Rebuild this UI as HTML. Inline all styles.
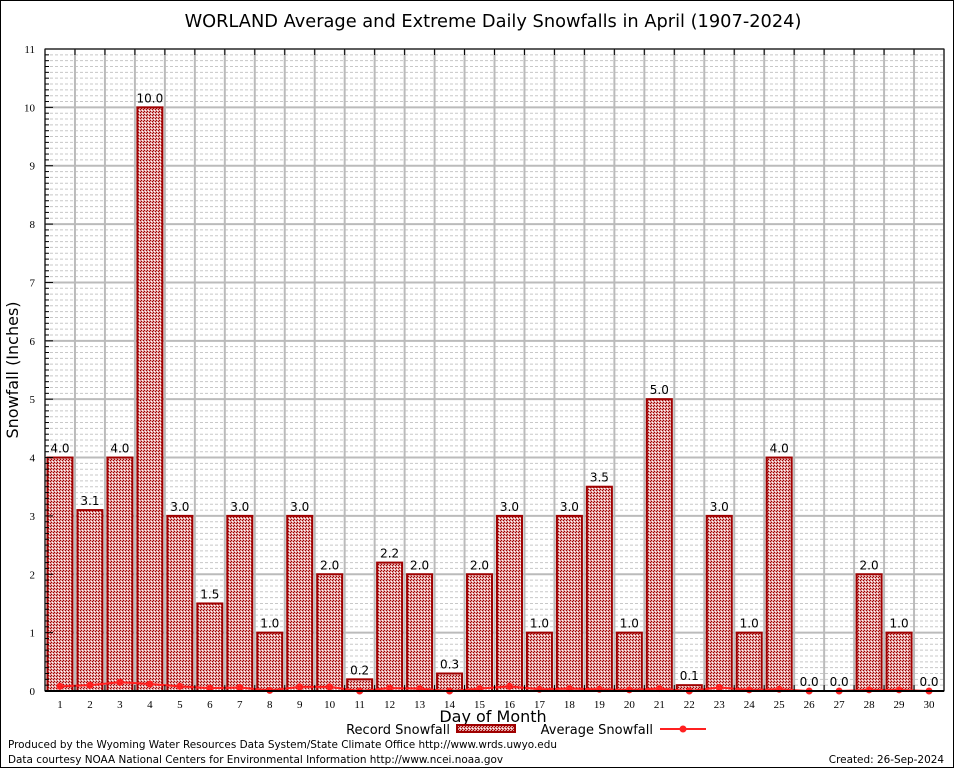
<!DOCTYPE html>
<html><head><meta charset="utf-8"><style>
body{margin:0;background:#fff;}
svg{display:block;font-family:"DejaVu Sans","Liberation Sans",sans-serif;}
</style></head><body>
<svg id="chart" width="954" height="768" viewBox="0 0 954 768" xmlns="http://www.w3.org/2000/svg">
<defs>
<pattern id="hatch" width="3" height="3" patternUnits="userSpaceOnUse">
<rect width="3" height="3" fill="#e0a0a0"/>
<rect x="0" y="0" width="1" height="1" fill="#a00000"/>
<rect x="2" y="1" width="1" height="1" fill="#a00000"/>
<rect x="1" y="2" width="1" height="1" fill="#ffffff"/>
</pattern>
</defs>
<rect x="0.5" y="0.5" width="953" height="767" fill="#fff" stroke="#000"/>
<text x="493" y="27" font-size="17.8" text-anchor="middle">WORLAND Average and Extreme Daily Snowfalls in April (1907-2024)</text>
<g id="grid"></g>
<g id="bars"></g>
<g id="avg"></g>
<g id="axes"></g>
<text x="18" y="370" font-size="16" text-anchor="middle" transform="rotate(-90 18 370)">Snowfall (Inches)</text>
<text x="493" y="722" font-size="16" text-anchor="middle">Day of Month</text>
<g>
<text x="450" y="734" font-size="13" text-anchor="end">Record Snowfall</text>
<rect x="457" y="725" width="58" height="7" fill="url(#hatch)" stroke="#a00000" stroke-width="2"/>
</g>
<g>
<text x="653" y="734" font-size="13" text-anchor="end">Average Snowfall</text>
<line x1="660" y1="729" x2="706" y2="729" stroke="#ff2020" stroke-width="2"/>
<circle cx="683" cy="729" r="3.5" fill="#ff2020"/>
</g>
<text x="8" y="748" font-size="10.45">Produced by the Wyoming Water Resources Data System/State Climate Office http://www.wrds.uwyo.edu</text>
<text x="8" y="763" font-size="10.45">Data courtesy NOAA National Centers for Environmental Information http://www.ncei.noaa.gov</text>
<text x="944" y="763" font-size="10.45" text-anchor="end">Created:  26-Sep-2024</text>
</svg>
<script>
const days=[1,2,3,4,5,6,7,8,9,10,11,12,13,14,15,16,17,18,19,20,21,22,23,24,25,26,27,28,29,30];
const recordSnow=[4.0,3.1,4.0,10.0,3.0,1.5,3.0,1.0,3.0,2.0,0.2,2.2,2.0,0.3,2.0,3.0,1.0,3.0,3.5,1.0,5.0,0.1,3.0,1.0,4.0,0.0,0.0,2.0,1.0,0.0];
const avgSnow=[0.08,0.1,0.15,0.12,0.08,0.05,0.06,0.01,0.07,0.07,0.0,0.05,0.04,0.0,0.04,0.08,0.03,0.04,0.03,0.02,0.04,0.0,0.06,0.02,0.03,0.0,0.0,0.02,0.02,0.0];
const yTicks=[0,1,2,3,4,5,6,7,8,9,10,11];
const NS="http://www.w3.org/2000/svg";
const L=45,R=944,T=49,B=691,YMAX=11;
const slot=(R-L)/days.length;
const xc=d=>L+slot*(d-0.5);
const y=v=>B-(v/YMAX)*(B-T);
function mk(tag,attrs,parent){const e=document.createElementNS(NS,tag);for(const k in attrs)e.setAttribute(k,attrs[k]);parent.appendChild(e);return e;}
const grid=document.getElementById('grid'),bars=document.getElementById('bars'),avg=document.getElementById('avg'),axes=document.getElementById('axes');
for(let i=1;i<YMAX*10;i++){if(i%10===0)continue;const l=mk('line',{x1:L,x2:R,y1:y(i/10),y2:y(i/10),stroke:'#c8c8c8','stroke-dasharray':'3,2','stroke-width':1},grid);

}
yTicks.forEach(t=>{const l=mk('line',{x1:L,x2:R,y1:y(t),y2:y(t),stroke:'#bbb','stroke-width':2},grid);


const tx=mk('text',{x:L-10,y:y(t)+4,'font-size':11,'text-anchor':'end','font-family':'Liberation Serif, serif'},axes);tx.textContent=t;


for(let m=0;m<10&&t<YMAX;m++){mk('line',{x1:L,x2:L+(m===0?8:4),y1:y(t+m/10),y2:y(t+m/10),stroke:'#000'},axes);}
});
for(let k=0;k<=days.length;k++){const x=L+slot*k;const l=mk('line',{x1:x,x2:x,y1:T,y2:B,stroke:'#bbb','stroke-width':2},grid);


mk('line',{x1:x,x2:x,y1:T,y2:T+6,stroke:'#000'},axes);mk('line',{x1:x,x2:x,y1:B,y2:B-6,stroke:'#000'},axes);}
days.forEach((d,i)=>{const v=recordSnow[i];
if(v>0){const r=mk('rect',{x:xc(d)-12.5,y:y(v),width:25,height:B-y(v),fill:'url(#hatch)',stroke:'#a00000','stroke-width':2},bars);

}
const lb=mk('text',{x:xc(d),y:y(v)-5,'font-size':12,'text-anchor':'middle'},bars);lb.textContent=v.toFixed(1);


const tl=mk('text',{x:xc(d),y:B+17,'font-size':11,'text-anchor':'middle','font-family':'Liberation Serif, serif'},axes);tl.textContent=d;

});
const pl=mk('polyline',{points:days.map((d,i)=>xc(d)+','+y(avgSnow[i])).join(' '),fill:'none',stroke:'#ff2020','stroke-width':2},avg);


days.forEach((d,i)=>{const c=mk('circle',{cx:xc(d),cy:y(avgSnow[i]),r:3.5,fill:'#ff2020'},avg);

});
const ax=mk('rect',{x:L,y:T,width:R-L,height:B-T,fill:'none',stroke:'#000','stroke-width':1},axes);


const bl=mk('line',{x1:L,x2:R,y1:B,y2:B,stroke:'#000','stroke-width':2},axes);


</script>
</body></html>
